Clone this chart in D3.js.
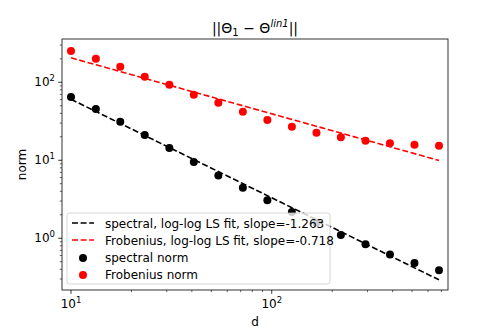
<!DOCTYPE html>
<html>
<head>
<meta charset="utf-8">
<script src="https://cdn.jsdelivr.net/npm/d3@7"></script>
<style>
  body { margin: 0; background: #fff; }
  svg { font-family: "DejaVu Sans", sans-serif; }
  .tick-label { font-size: 12px; fill: #000; }
</style>
</head>
<body>
<div id="wrapper"></div>
<script>
// 1. Data

const dims = [10, 13.3, 17.6, 23.3, 30.9, 40.9, 54.2, 71.8, 95.1, 126, 167, 221, 293, 388, 514, 681]
const spectralNorm = [64.9, 45.5, 31.3, 21.1, 14.4, 9.5, 6.4, 4.45, 3.07, 2.17, 1.58, 1.10, 0.84, 0.62, 0.48, 0.39]
const frobeniusNorm = [252, 201, 158, 118, 93, 69.4, 54.7, 42, 32.9, 27, 22.6, 19.7, 17.8, 16.5, 15.85, 15.4]
const spectralFit = { intercept: 3.045, slope: -1.263 }
const frobeniusFit = { intercept: 3.032, slope: -0.718 }
const xTicks = [10, 100]
const yTicks = [1, 10, 100]

// 2. Dimensions

const width = 498
const height = 332
const margin = { top: 39, right: 50, bottom: 42, left: 62 }
const innerW = width - margin.left - margin.right
const innerH = height - margin.top - margin.bottom

const svg = d3.select("#wrapper").append("svg")
    .attr("width", width)
    .attr("height", height)

const bounds = svg.append("g")
    .attr("transform", `translate(${margin.left},${margin.top})`)

// 3. Scales

const x = d3.scaleLog().domain([9.02, 755]).range([0, innerW])
const y = d3.scaleLog().domain([0.217, 359]).range([innerH, 0])

// 4. Data

const fitLine = fit => d3.line()
    .x(d => x(d))
    .y(d => y(Math.pow(10, fit.intercept + fit.slope * Math.log10(d))))

const fitDomain = [dims[0], dims[dims.length - 1]]

bounds.append("path")
    .attr("d", fitLine(spectralFit)(fitDomain))
    .attr("fill", "none").attr("stroke", "#000")
    .attr("stroke-width", 1.6).attr("stroke-dasharray", "6,2.6")

bounds.append("path")
    .attr("d", fitLine(frobeniusFit)(fitDomain))
    .attr("fill", "none").attr("stroke", "#ff0000")
    .attr("stroke-width", 1.6).attr("stroke-dasharray", "6,2.6")

bounds.selectAll(".spec")
  .data(dims)
  .enter().append("circle")
    .attr("cx", d => x(d))
    .attr("cy", (d, i) => y(spectralNorm[i]))
    .attr("r", 4)
    .attr("fill", "#000")

bounds.selectAll(".frob")
  .data(dims)
  .enter().append("circle")
    .attr("cx", d => x(d))
    .attr("cy", (d, i) => y(frobeniusNorm[i]))
    .attr("r", 4)
    .attr("fill", "#ff0000")

// 5. Axes

const minorTicks = (scale) => {
  const [a, b] = scale.domain()
  const lo = Math.min(a, b), hi = Math.max(a, b)
  const out = []
  for (let e = Math.floor(Math.log10(lo)); e <= Math.ceil(Math.log10(hi)); e++) {
    for (let m = 2; m <= 9; m++) {
      const v = m * Math.pow(10, e)
      if (v >= lo && v <= hi) out.push(v)
    }
  }
  return out
}

const xAxis = bounds.append("g").attr("transform", `translate(0,${innerH})`)
xAxis.selectAll(".minor").data(minorTicks(x)).enter().append("line")
    .attr("x1", d => x(d)).attr("x2", d => x(d))
    .attr("y1", 0).attr("y2", 2.2)
    .attr("stroke", "#000").attr("stroke-width", 0.6)
xAxis.selectAll(".major").data(xTicks).enter().append("line")
    .attr("x1", d => x(d)).attr("x2", d => x(d))
    .attr("y1", 0).attr("y2", 3.8)
    .attr("stroke", "#000").attr("stroke-width", 0.8)
const xLabels = xAxis.selectAll(".xl").data(xTicks).enter().append("text")
    .attr("class", "tick-label")
    .attr("x", d => x(d))
    .attr("y", 18)
    .attr("text-anchor", "middle")
xLabels.append("tspan").text("10")
xLabels.append("tspan").attr("dy", -5).attr("font-size", 8.5)
    .text(d => Math.round(Math.log10(d)))

const yAxis = bounds.append("g")
yAxis.selectAll(".minor").data(minorTicks(y)).enter().append("line")
    .attr("y1", d => y(d)).attr("y2", d => y(d))
    .attr("x1", 0).attr("x2", -2.2)
    .attr("stroke", "#000").attr("stroke-width", 0.6)
yAxis.selectAll(".major").data(yTicks).enter().append("line")
    .attr("y1", d => y(d)).attr("y2", d => y(d))
    .attr("x1", 0).attr("x2", -3.8)
    .attr("stroke", "#000").attr("stroke-width", 0.8)
const yLabels = yAxis.selectAll(".yl").data(yTicks).enter().append("text")
    .attr("class", "tick-label")
    .attr("x", -7)
    .attr("y", d => y(d) + 4)
    .attr("text-anchor", "end")
yLabels.append("tspan").text("10")
yLabels.append("tspan").attr("dy", -5).attr("font-size", 8.5)
    .text(d => Math.round(Math.log10(d)))

bounds.append("rect")
    .attr("width", innerW).attr("height", innerH)
    .attr("fill", "none").attr("stroke", "#000").attr("stroke-width", 0.8)

// 6. Labels

svg.append("text")
    .attr("x", margin.left + innerW / 2)
    .attr("y", height - 6)
    .attr("text-anchor", "middle")
    .attr("font-size", 12)
    .text("d")

svg.append("text")
    .attr("transform", `translate(26,${margin.top + innerH / 2}) rotate(-90)`)
    .attr("text-anchor", "middle")
    .attr("font-size", 12)
    .text("norm")

const title = svg.append("text")
    .attr("x", margin.left + innerW / 2)
    .attr("y", 33)
    .attr("text-anchor", "middle")
    .attr("font-size", 14)
title.append("tspan").text("||Θ")
title.append("tspan").attr("dy", 3).attr("font-size", 10).text("1")
title.append("tspan").attr("dy", -3).text(" − Θ")
title.append("tspan").attr("dy", -6).attr("font-size", 10).attr("font-style", "italic").text("lin1")
title.append("tspan").attr("dy", 6).text("||")

// 7. Legend

const legendItems = [
  { kind: "line", color: "#000", label: "spectral, log-log LS fit, slope=" + spectralFit.slope.toFixed(3) },
  { kind: "line", color: "#ff0000", label: "Frobenius, log-log LS fit, slope=" + frobeniusFit.slope.toFixed(3) },
  { kind: "dot", color: "#000", label: "spectral norm" },
  { kind: "dot", color: "#ff0000", label: "Frobenius norm" },
]

const legend = svg.append("g").attr("transform", "translate(67,213)")
legend.append("rect")
    .attr("width", 263).attr("height", 71)
    .attr("rx", 2.5)
    .attr("fill", "#fff").attr("fill-opacity", 0.8)
    .attr("stroke", "#ccc").attr("stroke-width", 0.8)

const rows = legend.selectAll(".row").data(legendItems).enter().append("g")
    .attr("transform", (d, i) => `translate(0,${10 + i * 17})`)
rows.filter(d => d.kind === "line").append("line")
    .attr("x1", 5).attr("x2", 27).attr("y1", 0).attr("y2", 0)
    .attr("stroke", d => d.color).attr("stroke-width", 1.6)
    .attr("stroke-dasharray", "6,2.6")
rows.filter(d => d.kind === "dot").append("circle")
    .attr("cx", 16).attr("cy", 1).attr("r", 4)
    .attr("fill", d => d.color)
rows.append("text")
    .attr("x", 38).attr("y", 4.5)
    .attr("font-size", 12)
    .text(d => d.label)
</script>
</body>
</html>
